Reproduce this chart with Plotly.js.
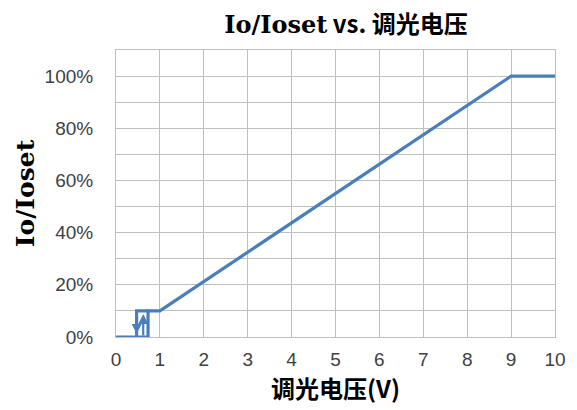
<!DOCTYPE html>
<html>
<head>
<meta charset="utf-8">
<script src="https://cdn.plot.ly/plotly-3.0.1.min.js"></script>
<style>html,body{margin:0;padding:0;background:#fff;}</style>
</head>
<body>
<div id="chart" style="width:577px;height:410px;"></div>
<script>
// Rising path (voltage increasing)
const riseX = [0, 0.73, 0.73, 1, 9, 10];
const riseY = [0, 0, 0.10, 0.10, 1.00, 1.00];
// Falling path (voltage decreasing, hysteresis)
const fallX = [0.73, 0.47, 0.47];
const fallY = [0.10, 0.10, 0];
// Arrows in the hysteresis loop: [x, yFrom, yTo]
const arrowDown = [0.47, 0.07, 0.012];
const arrowUp = [0.62, 0.0, 0.088];

const xTicks = [0,1,2,3,4,5,6,7,8,9,10];
const yTicks = [0, 0.2, 0.4, 0.6, 0.8, 1.0];
const yTickLabels = ['0%','20%','40%','60%','80%','100%'];

const blue = '#4a7ebb';
const gridC = '#bfbfbf';
const cjk = '"Noto Sans CJK SC", "Noto Sans", sans-serif';
const serif = '"DejaVu Serif", "Liberation Serif", serif';
const tickFont = {family: 'Liberation Sans, Arial, sans-serif', size: 19, color: '#404040'};

const traces = [
  {x: riseX, y: riseY, mode: 'lines', line: {color: blue, width: 3.2}, hoverinfo: 'skip', showlegend: false},
  {x: fallX, y: fallY, mode: 'lines', line: {color: blue, width: 3.2}, hoverinfo: 'skip', showlegend: false}
];

function arrow(a) {
  return {x: a[0], y: a[2], ax: a[0], ay: a[1], xref: 'x', yref: 'y', axref: 'x', ayref: 'y',
    showarrow: true, arrowhead: 2, arrowsize: 0.9, arrowwidth: 2.2, arrowcolor: blue, text: ''};
}

const layout = {
  width: 577, height: 410,
  margin: {l: 116, r: 22, t: 50, b: 73},
  paper_bgcolor: '#fff', plot_bgcolor: '#fff',
  title: {text: '<b><span style="font-family:DejaVu Serif">Io/Ioset</span> vs. 调光电压</b>',
          font: {family: cjk, size: 24, color: '#000'},
          x: 346 / 577, xref: 'container', xanchor: 'center', y: 1 - 25 / 410, yref: 'container', yanchor: 'middle'},
  xaxis: {
    range: [0, 10], tickvals: xTicks, ticktext: xTicks.map(String),
    showgrid: true, gridcolor: gridC, gridwidth: 1,
    showline: true, linecolor: gridC, mirror: true, zeroline: false,
    ticks: '', tickfont: tickFont, ticklabelstandoff: 5,
    title: {text: '<b>调光电压(V)</b>', font: {family: cjk, size: 24, color: '#000'}, standoff: 5}
  },
  yaxis: {
    range: [0, 1.1], tickvals: yTicks, ticktext: yTickLabels,
    showgrid: true, gridcolor: gridC, gridwidth: 1,
    minor: {dtick: 0.1, tick0: 0, showgrid: true, gridcolor: gridC, gridwidth: 1, ticks: ''},
    showline: true, linecolor: gridC, mirror: true, zeroline: false,
    ticks: '', tickfont: tickFont, ticklabelstandoff: 18,
    title: {text: '<b>Io/Ioset</b>', font: {family: serif, size: 25, color: '#000'}, standoff: 2}
  },
  annotations: [arrow(arrowDown), arrow(arrowUp)]
};

Plotly.newPlot('chart', traces, layout, {staticPlot: true, displayModeBar: false});
</script>
</body>
</html>
